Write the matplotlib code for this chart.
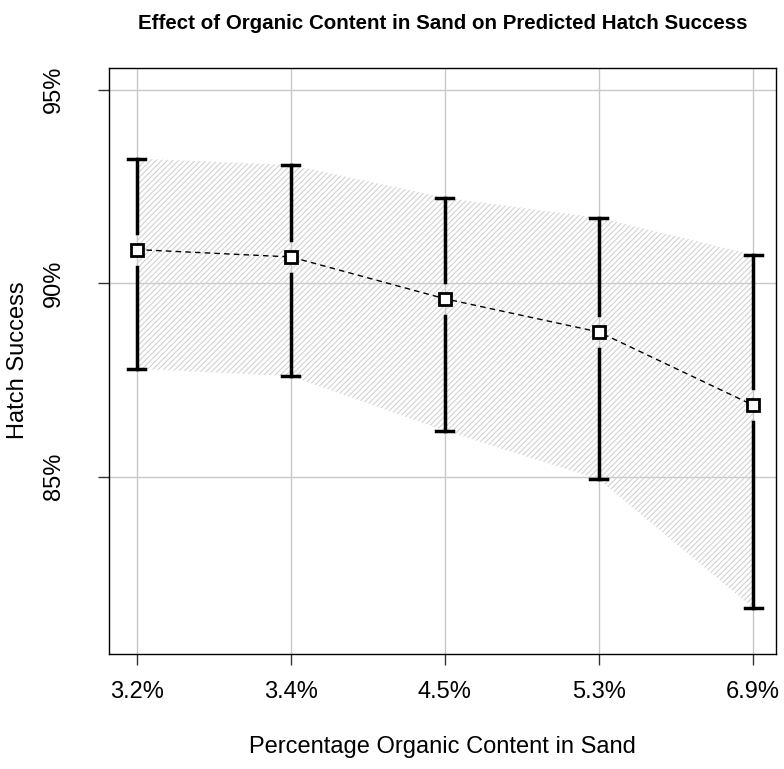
import matplotlib.pyplot as plt
import numpy as np

plt.rcParams['font.family'] = ['Liberation Sans', 'DejaVu Sans']
plt.rcParams['hatch.color'] = '#d2d2d2'
plt.rcParams['hatch.linewidth'] = 0.8

# values
organic = ['3.2%', '3.4%', '4.5%', '5.3%', '6.9%']
hatch_pred = [90.87, 90.68, 89.60, 88.74, 86.85]
upper_ci = [93.22, 93.06, 92.21, 91.69, 90.74]
lower_ci = [87.79, 87.60, 86.19, 84.93, 81.61]
y_ticks = [85, 90, 95]

x = np.arange(1, len(organic) + 1)

fig = plt.figure(figsize=(7.84, 7.69), dpi=100)
ax = fig.add_axes([0.139, 0.150, 0.851, 0.762])
ax.set_xlim(0.82, 5.15)
ax.set_ylim(80.43, 95.57)

ax.grid(True, color='#c8c8c8', linewidth=1)
ax.set_axisbelow(True)

# confidence band
ax.fill_between(x, lower_ci, upper_ci, facecolor='none', edgecolor='#d2d2d2',
                hatch='//////', linewidth=0)

# dashed line through the predictions
ax.plot(x, hatch_pred, color='black', linestyle=(0, (4, 3)), linewidth=1, zorder=3)

# error bars with a gap around each point
gap = 17 / 38.7
for xi, p, lo, hi in zip(x, hatch_pred, lower_ci, upper_ci):
    ax.plot([xi, xi], [p + gap, hi], color='black', linewidth=2.5, zorder=4)
    ax.plot([xi, xi], [lo, p - gap], color='black', linewidth=2.5, zorder=4)
    ax.plot([xi - 0.055, xi + 0.055], [hi, hi], color='black', linewidth=2.5, zorder=4)
    ax.plot([xi - 0.055, xi + 0.055], [lo, lo], color='black', linewidth=2.5, zorder=4)

ax.plot(x, hatch_pred, linestyle='none', marker='s', markersize=8,
        markerfacecolor='white', markeredgecolor='black', markeredgewidth=2, zorder=5)

ax.set_xticks(x)
ax.set_xticklabels(organic)
ax.set_yticks(y_ticks)
ax.set_yticklabels([f'{v}%' for v in y_ticks], rotation=90, va='center')
ax.tick_params(axis='both', labelsize=17, length=8, width=1, color='#333333')
ax.tick_params(axis='x', pad=12)
ax.tick_params(axis='y', pad=24)

for s in ax.spines.values():
    s.set_linewidth(1)

ax.set_xlabel('Percentage Organic Content in Sand', fontsize=17, va='center')
ax.xaxis.set_label_coords(0.5, -0.160)
ax.set_ylabel('Hatch Success', fontsize=17, va='center')
ax.yaxis.set_label_coords(-0.136, 0.5)
ax.text(0.5, 1.076, 'Effect of Organic Content in Sand on Predicted Hatch Success',
        transform=ax.transAxes, ha='center', va='center', fontsize=14.8, fontweight='bold')

fig.savefig('out.png', dpi=100)
